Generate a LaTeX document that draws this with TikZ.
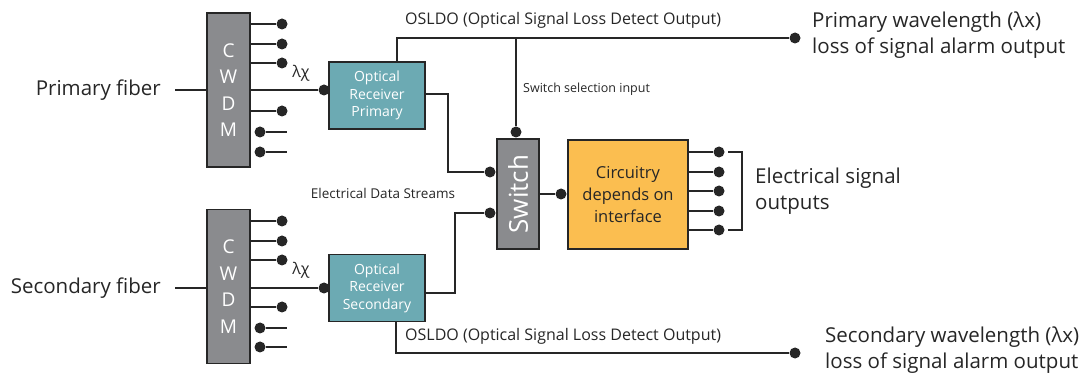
\documentclass[tikz,border=0pt]{standalone}
\usepackage{fontspec}
\setmainfont{Open Sans}
\definecolor{cwdmgray}{HTML}{8A8B8E}
\definecolor{rxteal}{HTML}{6CAAB3}
\definecolor{circorange}{HTML}{FBBE50}
\definecolor{wirecol}{HTML}{262626}
\begin{document}
\begin{tikzpicture}[
   x=1pt,y=-1pt,
   box/.style={draw=wirecol,line width=1.2pt,align=center},
   cwdm/.style={box,fill=cwdmgray,text=white,minimum width=43pt,minimum height=154pt,font=\fontsize{19}{26.5}\selectfont},
   rx/.style={box,fill=rxteal,text=white,minimum width=96pt,minimum height=67pt,font=\fontsize{14}{17.5}\selectfont},
   dot/.style={circle,fill=wirecol,minimum size=11pt},
   wire/.style={draw=wirecol,line width=1.6pt},
   small/.style={font=\fontsize{16}{19}\selectfont},
   every node/.style={inner sep=0pt,font=\fontsize{20.5}{26}\selectfont,text=wirecol}
 ]
  \useasboundingbox (0,0) rectangle (1088,374);
  % demultiplexers and receivers
  \node[cwdm] (c1) at (228.5,90) {C\\W\\D\\M};
  \node[cwdm] (c2) at (228.5,286.5) {C\\W\\D\\M};
  \node[rx] (r1) at (377,95.5) {Optical\\Receiver\\Primary};
  \node[rx] (r2) at (377,288) {Optical\\Receiver\\Secondary};
  \node[box,fill=cwdmgray,text=white,minimum width=42pt,minimum height=110pt,font=\fontsize{26}{30}\selectfont] (sw) at (518,194) {\rotatebox{90}{Switch}};
  \node[box,fill=circorange,minimum width=120pt,minimum height=109pt,font=\fontsize{16.5}{22}\selectfont] (circ) at (628,194.5) {Circuitry\\depends on\\interface};
  % fiber inputs
  \node[anchor=east] (pf) at (161,90) {Primary fiber};
  \node[anchor=east] (sf) at (161,288) {Secondary fiber};
  \coordinate (pin) at (175,90);
  \coordinate (sin) at (175,288);
  \draw[wire] (pin) -- (c1.west |- pin);
  \draw[wire] (sin) -- (c2.west |- sin);
  % CWDM stubs
  \foreach \y [count=\i] in {24,44,63,111} {
    \node[dot] (pa\i) at (282,\y) {};
    \draw[wire] (c1.east |- pa\i) -- (pa\i);
  }
  \foreach \y [count=\i] in {221,241,260,307} {
    \node[dot] (pb\i) at (282,\y) {};
    \draw[wire] (c2.east |- pb\i) -- (pb\i);
  }
  \foreach \y [count=\i] in {132,152} {
    \node[dot] (qa\i) at (260,\y) {};
    \coordinate (ea\i) at (287,\y);
    \draw[wire] (qa\i) -- (ea\i);
  }
  \foreach \y [count=\i] in {328,347} {
    \node[dot] (qb\i) at (260,\y) {};
    \coordinate (eb\i) at (287,\y);
    \draw[wire] (qb\i) -- (eb\i);
  }
  \node[dot] (l1) at (324,90) {};
  \node[dot] (l2) at (324,288) {};
  \draw[wire] (c1.east |- l1) -- (l1);
  \draw[wire] (c2.east |- l2) -- (l2);
  \node[font=\fontsize{16}{18}\selectfont] (lam1) at (301,73) {λχ};
  \node[font=\fontsize{16}{18}\selectfont] (lam2) at (301,270) {λχ};
  % loss of signal outputs
  \coordinate (o1) at (397,38);
  \coordinate (o2) at (396,353);
  \node[dot] (a1) at (795,38) {};
  \node[dot] (a2) at (795,353) {};
  \draw[wire] (r1.north -| o1) -- (o1) -- (a1);
  \draw[wire] (r2.south -| o2) -- (o2) -- (a2);
  \node[small,anchor=west] (osl1) at (405,20) {OSLDO (Optical Signal Loss Detect Output)};
  \node[small,anchor=west] (osl2) at (405,336) {OSLDO (Optical Signal Loss Detect Output)};
  \node[anchor=west,align=left] (pw) at (812,35) {Primary wavelength (λx)\\loss of signal alarm output};
  \node[anchor=west,align=left] (sw2) at (825,350) {Secondary wavelength (λx)\\loss of signal alarm output};
  % switch inputs
  \node[dot] (s1) at (516,132) {};
  \draw[wire] (o1 -| s1) -- (s1);
  \node[anchor=west,font=\fontsize{12.5}{15}\selectfont] (ssi) at (523,89) {Switch selection input};
  \coordinate (k1) at (448,172);
  \coordinate (k2) at (455,213);
  \node[dot] (d1) at (490,172) {};
  \node[dot] (d2) at (490,213) {};
  \draw[wire] ([yshift=1.5pt]r1.east) -| (k1) -- (d1);
  \draw[wire] ([yshift=-5pt]r2.east) -| (k2) -- (d2);
  \node[font=\fontsize{13.5}{16}\selectfont] (eds) at (383,193) {Electrical Data Streams};
  % switch to circuitry and outputs
  \node[dot] (m) at (561,194) {};
  \draw[wire] (sw.east |- m) -- (m);
  \foreach \y [count=\i] in {152,172,191,211,230} {
    \node[dot] (out\i) at (719,\y) {};
    \draw[wire] (circ.east |- out\i) -- (out\i);
  }
  \coordinate (bt) at (728,152);
  \coordinate (bb) at (728,230);
  \draw[draw=wirecol,line width=1.2pt] (bt) -- ++(14,0) |- (bb);
  \node[anchor=west,align=left] (eso) at (755,191) {Electrical signal\\outputs};
\end{tikzpicture}
\end{document}
